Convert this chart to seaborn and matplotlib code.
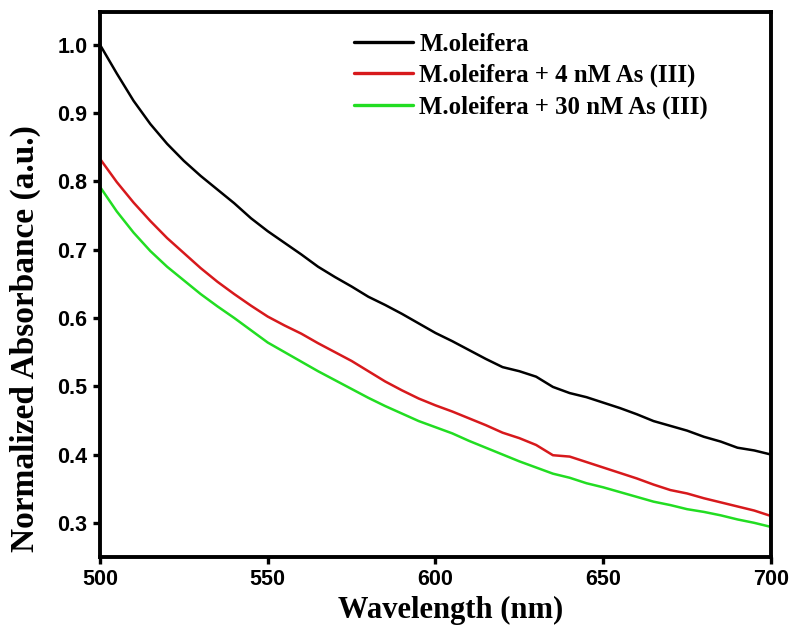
import numpy as np
import pandas as pd
import matplotlib
matplotlib.use("Agg")
import matplotlib.pyplot as plt
import seaborn as sns

wavelength = list(range(500, 701, 5))
black = [1.000, 0.958, 0.918, 0.884, 0.855, 0.830, 0.808, 0.788, 0.768, 0.746,
         0.727, 0.710, 0.693, 0.675, 0.660, 0.646, 0.631, 0.619, 0.606, 0.592,
         0.578, 0.566, 0.553, 0.540, 0.528, 0.522, 0.514, 0.499, 0.490, 0.484,
         0.476, 0.468, 0.459, 0.449, 0.442, 0.435, 0.426, 0.419, 0.410, 0.406,
         0.400]
red = [0.833, 0.799, 0.769, 0.742, 0.717, 0.695, 0.673, 0.653, 0.635, 0.618,
       0.602, 0.589, 0.577, 0.563, 0.550, 0.537, 0.522, 0.507, 0.494, 0.482,
       0.472, 0.463, 0.453, 0.443, 0.432, 0.424, 0.414, 0.399, 0.397, 0.389,
       0.381, 0.373, 0.365, 0.356, 0.348, 0.343, 0.336, 0.330, 0.324, 0.318,
       0.310]
green = [0.792, 0.756, 0.725, 0.698, 0.675, 0.655, 0.635, 0.617, 0.600, 0.582,
         0.564, 0.550, 0.536, 0.522, 0.509, 0.496, 0.483, 0.471, 0.460, 0.449,
         0.440, 0.431, 0.420, 0.410, 0.400, 0.390, 0.381, 0.372, 0.366, 0.358,
         0.352, 0.345, 0.338, 0.331, 0.326, 0.320, 0.316, 0.311, 0.305, 0.300,
         0.294]
labels = ["M.oleifera", "M.oleifera + 4 nM As (III)", "M.oleifera + 30 nM As (III)"]
colors = ["#000000", "#d7191c", "#22dd22"]
xticks = [500, 550, 600, 650, 700]
yticks = [0.3, 0.4, 0.5, 0.6, 0.7, 0.8, 0.9, 1.0]

df = pd.concat([
    pd.DataFrame({"wl": wavelength, "abs": vals, "sample": lab})
    for vals, lab in zip([black, red, green], labels)
])

sns.set_style("white")
plt.rcParams["text.color"] = "black"
plt.rcParams["axes.labelcolor"] = "black"
plt.rcParams["xtick.color"] = "black"
plt.rcParams["ytick.color"] = "black"

fig = plt.figure(figsize=(7.91, 6.30), dpi=100)
ax = fig.add_axes([0.1264, 0.1159, 0.8483, 0.8651])
sns.lineplot(data=df, x="wl", y="abs", hue="sample", hue_order=labels,
             palette=colors, linewidth=1.8, ax=ax, legend=True)

ax.set_xlim(500, 700)
ax.set_ylim(0.25, 1.048)
ax.set_xticks(xticks)
ax.set_yticks(yticks)
ax.set_yticklabels([f"{v:.1f}" for v in yticks])
for s in ax.spines.values():
    s.set_linewidth(2.8)
    s.set_color("black")
ax.tick_params(axis="both", which="both", direction="out", length=5, width=2.4,
               left=True, bottom=True, right=False, top=False, pad=4,
               colors="black")
for lab in ax.get_xticklabels() + ax.get_yticklabels():
    lab.set_fontfamily("Liberation Sans")
    lab.set_fontweight("bold")
    lab.set_fontsize(15.5)

ax.set_xlabel("Wavelength (nm)", fontfamily="Liberation Serif", fontweight="bold",
              fontsize=22, color="black")
ax.set_ylabel("Normalized Absorbance (a.u.)", fontfamily="Liberation Serif",
              fontweight="bold", fontsize=24, color="black")
ax.xaxis.set_label_coords(0.523, -0.072)
ax.yaxis.set_label_coords(-0.088, 0.40)

leg = ax.legend(loc="upper left", bbox_to_anchor=(0.345, 1.003), frameon=False,
                prop={"family": "Liberation Serif", "weight": "bold", "size": 17.8},
                handlelength=2.4, handletextpad=0.25, labelspacing=0.33)
for h in leg.get_lines():
    h.set_linewidth(2.4)
for t in leg.get_texts():
    t.set_color("black")

fig.savefig("out.png", dpi=100)
